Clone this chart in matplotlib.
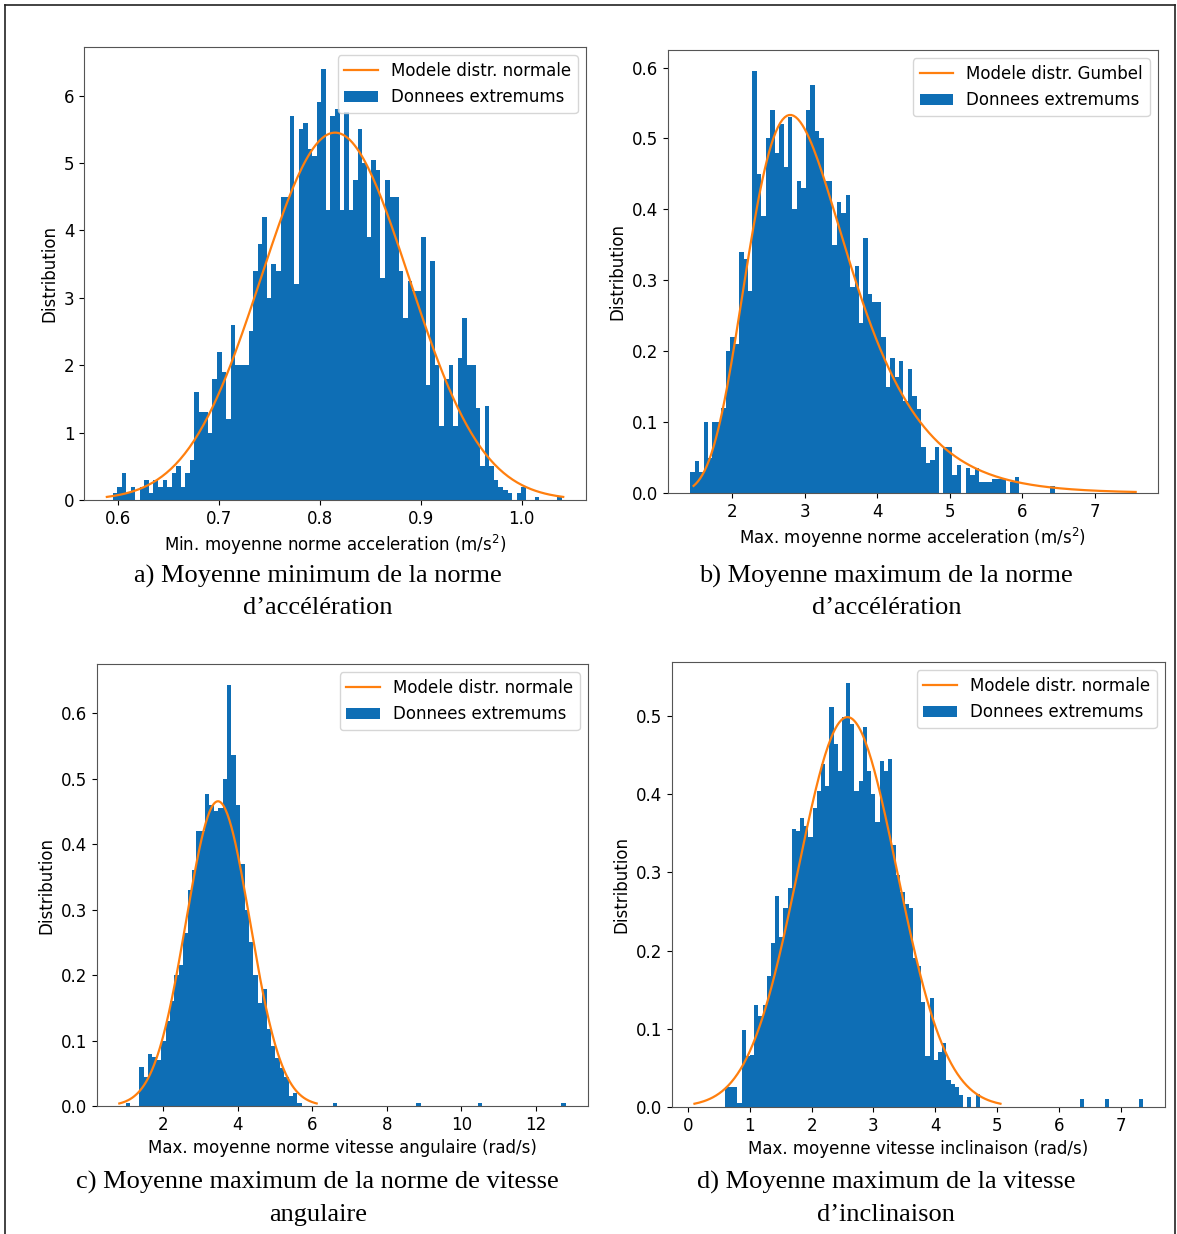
import numpy as np
import matplotlib
matplotlib.use("Agg")
import matplotlib.pyplot as plt
from matplotlib.lines import Line2D

plt.rcParams.update({
    "figure.facecolor": "white",
    "font.size": 12,
    "font.family": "DejaVu Sans",
})

BAR_COLOR = "#0e6eb5"
FIT_COLOR = "#ff7f0e"

# ---------------------------------------------------------------
# a) minimum of mean acceleration norm: histogram (density) + normal fit
hist_a_start, hist_a_width = 0.59, 0.0045
hist_a = [0.0, 0.1, 0.2, 0.4, 0.1, 0.2, 0.0, 0.2, 0.3, 0.1,
          0.3, 0.2, 0.3, 0.2, 0.4, 0.5, 0.2, 0.4, 0.6, 1.6,
          1.3, 1.3, 1.0, 1.8, 2.2, 1.9, 1.2, 2.6, 2.0, 2.0,
          2.0, 2.5, 3.4, 3.8, 4.2, 3.0, 3.5, 3.4, 4.5, 4.5,
          5.7, 3.2, 5.5, 5.6, 5.2, 5.1, 5.9, 6.4, 4.3, 5.7,
          5.8, 4.3, 5.75, 4.3, 4.75, 5.5, 5.0, 3.9, 5.05, 4.9,
          3.3, 4.75, 4.5, 4.5, 3.4, 2.7, 3.25, 3.1, 3.1, 3.9,
          1.7, 3.55, 2.0, 1.1, 1.8, 2.0, 1.1, 2.1, 2.7, 2.0,
          2.0, 1.37, 0.5, 1.4, 0.5, 0.3, 0.2, 0.15, 0.1, 0.0,
          0.1, 0.2, 0.0, 0.0, 0.05, 0.0, 0.0, 0.0, 0.0, 0.05]
fit_a_mu, fit_a_sigma = 0.815, 0.0732

# b) maximum of mean acceleration norm: histogram + Gumbel fit
hist_b_start, hist_b_width = 1.42, 0.0613
hist_b = [0.03, 0.045, 0.03, 0.1, 0.05, 0.1, 0.1, 0.12, 0.2, 0.22,
          0.21, 0.34, 0.33, 0.285, 0.595, 0.45, 0.39, 0.5, 0.54, 0.48,
          0.52, 0.46, 0.53, 0.40, 0.44, 0.43, 0.54, 0.575, 0.51, 0.5,
          0.44, 0.44, 0.35, 0.41, 0.395, 0.42, 0.29, 0.32, 0.24, 0.36,
          0.28, 0.27, 0.27, 0.22, 0.15, 0.19, 0.163, 0.186, 0.13, 0.175,
          0.137, 0.118, 0.065, 0.042, 0.046, 0.065, 0.0, 0.065, 0.065, 0.025,
          0.04, 0.0, 0.035, 0.025, 0.035, 0.015, 0.015, 0.015, 0.02, 0.02,
          0.02, 0.0, 0.015, 0.022, 0.0, 0.0, 0.0, 0.0, 0.0, 0.0,
          0.0, 0.01, 0.0, 0.0, 0.0, 0.0, 0.0, 0.0, 0.0, 0.0,
          0.0, 0.0, 0.0, 0.0, 0.0, 0.0, 0.0, 0.0, 0.0, 0.0]
fit_b_loc, fit_b_scale = 2.8, 0.69

# c) maximum of mean angular speed norm: histogram + normal fit
hist_c_start, hist_c_width = 1.0, 0.118
hist_c = [0.005, 0.0, 0.0, 0.06, 0.045, 0.08, 0.075, 0.07, 0.1, 0.13,
          0.16, 0.2, 0.215, 0.265, 0.33, 0.36, 0.42, 0.42, 0.477, 0.46,
          0.45, 0.455, 0.5, 0.643, 0.536, 0.46, 0.37, 0.3, 0.25, 0.2,
          0.158, 0.178, 0.117, 0.091, 0.073, 0.058, 0.045, 0.015, 0.02, 0.005,
          0.0, 0.0, 0.0, 0.0, 0.0, 0.0, 0.0, 0.005, 0.0, 0.0,
          0.0, 0.0, 0.0, 0.0, 0.0, 0.0, 0.0, 0.0, 0.0, 0.0,
          0.0, 0.0, 0.0, 0.0, 0.0, 0.0, 0.005, 0.0, 0.0, 0.0,
          0.0, 0.0, 0.0, 0.0, 0.0, 0.0, 0.0, 0.0, 0.0, 0.0,
          0.005, 0.0, 0.0, 0.0, 0.0, 0.0, 0.0, 0.0, 0.0, 0.0,
          0.0, 0.0, 0.0, 0.0, 0.0, 0.0, 0.0, 0.0, 0.0, 0.005]
fit_c_mu, fit_c_sigma = 3.47, 0.857

# d) maximum of mean tilt speed: histogram + normal fit
hist_d_start, hist_d_width = 0.6, 0.0675
hist_d = [0.026, 0.026, 0.026, 0.005, 0.099, 0.065, 0.066, 0.131, 0.116, 0.13,
          0.168, 0.21, 0.27, 0.218, 0.254, 0.28, 0.355, 0.353, 0.37, 0.36,
          0.345, 0.383, 0.404, 0.439, 0.41, 0.512, 0.464, 0.43, 0.499, 0.542,
          0.49, 0.404, 0.417, 0.486, 0.43, 0.4, 0.365, 0.443, 0.43, 0.445,
          0.335, 0.297, 0.275, 0.26, 0.254, 0.19, 0.18, 0.134, 0.065, 0.14,
          0.06, 0.071, 0.082, 0.035, 0.03, 0.025, 0.015, 0.0, 0.013, 0.0,
          0.017, 0.0, 0.0, 0.0, 0.0, 0.0, 0.0, 0.0, 0.0, 0.0,
          0.0, 0.0, 0.0, 0.0, 0.0, 0.0, 0.0, 0.0, 0.0, 0.0,
          0.0, 0.0, 0.0, 0.0, 0.0, 0.01, 0.0, 0.0, 0.0, 0.0,
          0.0, 0.01, 0.0, 0.0, 0.0, 0.0, 0.0, 0.0, 0.0, 0.01]
fit_d_mu, fit_d_sigma = 2.58, 0.80

# ---------------------------------------------------------------
Z999 = 3.09  # norm.ppf(0.999)


def normal_curve(mu, sigma):
    x = np.linspace(mu - Z999 * sigma, mu + Z999 * sigma, 200)
    y = np.exp(-0.5 * ((x - mu) / sigma) ** 2) / (sigma * np.sqrt(2 * np.pi))
    return x, y


def gumbel_curve(loc, scale):
    lo = loc - scale * np.log(-np.log(0.001))
    hi = loc - scale * np.log(-np.log(0.999))
    x = np.linspace(lo, hi, 200)
    z = (x - loc) / scale
    y = np.exp(-(z + np.exp(-z))) / scale
    return x, y


def draw_panel(ax, start, width, heights, curve, fit_label, xlabel):
    heights = np.asarray(heights)
    edges = start + width * np.arange(len(heights) + 1)
    ax.plot(*curve, color=FIT_COLOR, lw=1.6, label=fit_label)
    ax.hist(edges[:-1], bins=edges, weights=heights, color=BAR_COLOR,
            label="Donnees extremums")
    ax.set_xlabel(xlabel)
    ax.set_ylabel("Distribution")
    ax.legend(loc="upper right")
    for s in ax.spines.values():
        s.set_color("#555555")


fig = plt.figure(figsize=(11.77, 12.34), dpi=100)

ax_a = fig.add_axes([0.0714, 0.5948, 0.4265, 0.3671])
ax_b = fig.add_axes([0.5675, 0.6005, 0.4163, 0.3590])
ax_c = fig.add_axes([0.0824, 0.1037, 0.4172, 0.3582])
ax_d = fig.add_axes([0.5710, 0.1029, 0.4189, 0.3606])

draw_panel(ax_a, hist_a_start, hist_a_width, hist_a,
           normal_curve(fit_a_mu, fit_a_sigma), "Modele distr. normale",
           "Min. moyenne norme acceleration (m/s$^2$)")
draw_panel(ax_b, hist_b_start, hist_b_width, hist_b,
           gumbel_curve(fit_b_loc, fit_b_scale), "Modele distr. Gumbel",
           "Max. moyenne norme acceleration (m/s$^2$)")
draw_panel(ax_c, hist_c_start, hist_c_width, hist_c,
           normal_curve(fit_c_mu, fit_c_sigma), "Modele distr. normale",
           "Max. moyenne norme vitesse angulaire (rad/s)")
draw_panel(ax_d, hist_d_start, hist_d_width, hist_d,
           normal_curve(fit_d_mu, fit_d_sigma), "Modele distr. normale",
           "Max. moyenne vitesse inclinaison (rad/s)")

# captions under each panel
cap = dict(family="Liberation Serif", fontsize=19, ha="center", va="center")
fig.text(0.270, 0.5325, "a) Moyenne minimum de la norme", **cap)
fig.text(0.270, 0.5075, "d\u2019accélération", **cap)
fig.text(0.753, 0.5325, "b) Moyenne maximum de la norme", **cap)
fig.text(0.753, 0.5075, "d\u2019accélération", **cap)
fig.text(0.270, 0.0415, "c) Moyenne maximum de la norme de vitesse", **cap)
fig.text(0.270, 0.0157, "angulaire", **cap)
fig.text(0.753, 0.0415, "d) Moyenne maximum de la vitesse", **cap)
fig.text(0.753, 0.0157, "d\u2019inclinaison", **cap)

# page frame (top, left, right)
x0, x1, y1 = 5 / 1177, 1175 / 1177, 1 - 5 / 1234
for xs, ys in [((x0, x1), (y1, y1)), ((x0, x0), (0, y1)), ((x1, x1), (0, y1))]:
    fig.add_artist(Line2D(xs, ys, color="#222222", lw=1.2))

fig.savefig("out.png", dpi=100)
